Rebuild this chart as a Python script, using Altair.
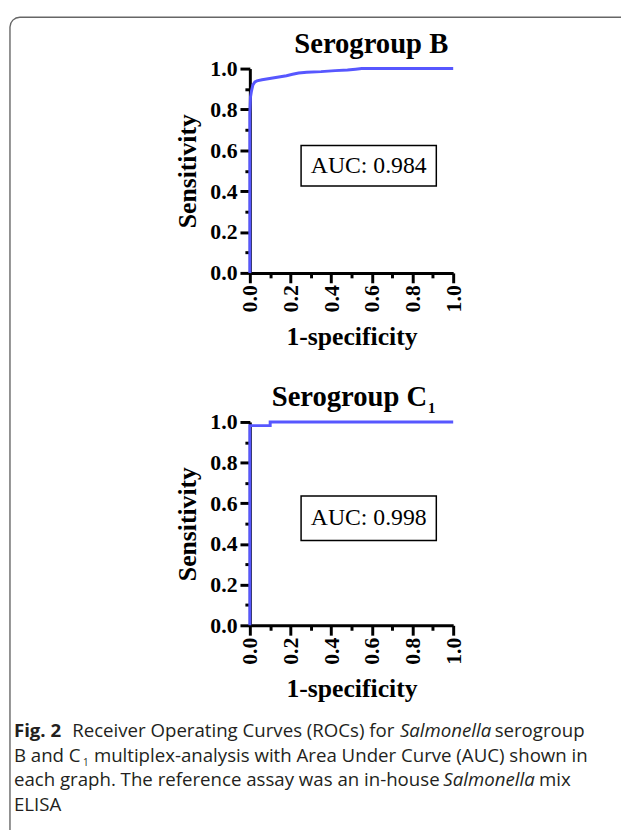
import altair as alt
import pandas as pd

# ---- data ----
fpr_b = [0.0, 0.0, 0.003, 0.008, 0.015, 0.025, 0.035, 0.06, 0.09, 0.12, 0.15, 0.18, 0.21, 0.24, 0.28, 0.35, 0.42, 0.48, 0.52, 0.55, 1.0]
tpr_b = [0.0, 0.78, 0.86, 0.89, 0.92, 0.935, 0.94, 0.945, 0.95, 0.955, 0.96, 0.965, 0.972, 0.978, 0.982, 0.985, 0.99, 0.993, 0.997, 1.0, 1.0]
fpr_c = [0.0, 0.0, 0.1, 0.1, 1.0]
tpr_c = [0.0, 0.982, 0.982, 1.0, 1.0]
auc_values = [0.984, 0.998]
panel_titles = ["Serogroup B", "Serogroup C"]
major_ticks = [0.0, 0.2, 0.4, 0.6, 0.8, 1.0]
minor_ticks = [0.1, 0.3, 0.5, 0.7, 0.9]

W, H = 621, 822
X0, X1 = 245, 451
BLUE = "#5757ff"
SERIF = "Liberation Serif"
CAP_FONT = "Open Sans"
CAP_COLOR = "#231f20"
CAP_SIZE = 18.9


def one(**kw):
    return alt.Data(values=[kw])


def panel(fpr, tpr, y_bottom, y_top, auc, box):
    xs = alt.Scale(domain=[0, 1], range=[X0, X1], nice=False, zero=False)
    ys = alt.Scale(domain=[0, 1], range=[y_bottom, y_top], nice=False, zero=False)
    df = pd.DataFrame({"fpr": fpr, "tpr": tpr, "i": list(range(len(fpr)))})
    line = alt.Chart(df).mark_line(color=BLUE, strokeWidth=3, clip=False).encode(
        x=alt.X("fpr:Q", scale=xs, axis=alt.Axis(
            orient="bottom", offset=y_bottom - H, values=major_ticks, format=".1f",
            labelAngle=-90, tickSize=10, labelPadding=2, title="1-specificity",
            titlePadding=12)),
        y=alt.Y("tpr:Q", scale=ys, axis=alt.Axis(
            orient="left", offset=-X0, values=major_ticks, format=".1f",
            tickSize=10, labelPadding=3, title="Sensitivity", titlePadding=10)),
        order="i:Q",
    )
    bx0, bx1, by0, by1 = box
    rect = alt.Chart(one(x0=bx0, x1=bx1, y0=by0, y1=by1)).mark_rect(
        fill="white", stroke="black", strokeWidth=1.5
    ).encode(
        x=alt.X("x0:Q", scale=xs, axis=alt.Axis(
            orient="bottom", offset=y_bottom - H, values=minor_ticks, labels=False,
            domain=False, tickSize=5, title=None)),
        x2="x1:Q",
        y=alt.Y("y0:Q", scale=ys, axis=alt.Axis(
            orient="left", offset=-X0, values=minor_ticks, labels=False,
            domain=False, tickSize=5, title=None)),
        y2="y1:Q",
    )
    auc_text = alt.Chart(one(x=(bx0 + bx1) / 2, y=(by0 + by1) / 2, t=f"AUC: {auc:.3f}")).mark_text(
        font=SERIF, fontSize=24, color="black", baseline="middle", align="center"
    ).encode(
        x=alt.X("x:Q", scale=xs, axis=None),
        y=alt.Y("y:Q", scale=ys, axis=None),
        text="t:N",
    )
    return [line, rect, auc_text], xs, ys


# Panel B
layersB, xsB, ysB = panel(fpr_b, tpr_b, 263, 56, auc_values[0],
                          (0.252, 0.917, 0.425, 0.623))
titleB = alt.Chart(one(x=0.597, y=1.077, t=panel_titles[0])).mark_text(
    font=SERIF, fontSize=29, fontWeight="bold", color="black",
    baseline="alphabetic", align="center"
).encode(x=alt.X("x:Q", scale=xsB, axis=None), y=alt.Y("y:Q", scale=ysB, axis=None), text="t:N")
panelB = alt.layer(*layersB, titleB).resolve_axis(x="independent", y="independent")

# Panel C1
layersC, xsC, ysC = panel(fpr_c, tpr_c, 620, 414, auc_values[1],
                          (0.252, 0.917, 0.417, 0.636))
titleC = alt.Chart(one(x=0.49, y=1.078, t=panel_titles[1])).mark_text(
    font=SERIF, fontSize=29, fontWeight="bold", color="black",
    baseline="alphabetic", align="center"
).encode(x=alt.X("x:Q", scale=xsC, axis=None), y=alt.Y("y:Q", scale=ysC, axis=None), text="t:N")
subC = alt.Chart(one(x=0.876, y=1.044, t="1")).mark_text(
    font=SERIF, fontSize=15, fontWeight="bold", color="black",
    baseline="alphabetic", align="left"
).encode(x=alt.X("x:Q", scale=xsC, axis=None), y=alt.Y("y:Q", scale=ysC, axis=None), text="t:N")
panelC = alt.layer(*layersC, titleC, subC).resolve_axis(x="independent", y="independent")

# Caption segments
cap_text = ["Fig. 2", "Receiver Operating Curves (ROCs) for", "Salmonella", "serogroup",
            "B and C", "1", "multiplex-analysis with Area Under Curve (AUC) shown in",
            "each graph. The reference assay was an in-house", "Salmonella", "mix",
            "ELISA"]
cap_x = [6, 65, 397, 493, 6, 76, 87, 6, 441, 538, 6]
cap_y = [733, 733, 733, 733, 758, 763, 758, 783, 783, 783, 808]
cap_weight = ["bold", "normal", "normal", "normal", "normal", "normal", "normal",
              "normal", "normal", "normal", "normal"]
cap_style = ["normal", "normal", "italic", "normal", "normal", "normal", "normal",
             "normal", "italic", "normal", "normal"]
cap_size = [CAP_SIZE, CAP_SIZE, CAP_SIZE, CAP_SIZE, CAP_SIZE, 10, CAP_SIZE,
            CAP_SIZE, CAP_SIZE, CAP_SIZE, CAP_SIZE]

caption_layers = []
for t, x, y, w, s, fs in zip(cap_text, cap_x, cap_y, cap_weight, cap_style, cap_size):
    caption_layers.append(
        alt.Chart(one(t=t)).mark_text(
            font=CAP_FONT, fontSize=fs, fontWeight=w, fontStyle=s, color=CAP_COLOR,
            align="left", baseline="alphabetic"
        ).encode(x=alt.value(x), y=alt.value(y), text="t:N")
    )

border = alt.Chart(one(a=1)).mark_rect(
    fill=None, stroke="#666666", strokeWidth=1.4, cornerRadius=10
).encode(x=alt.value(2), x2=alt.value(700), y=alt.value(4), y2=alt.value(900))

chart = alt.layer(border, panelB, panelC, *caption_layers).resolve_scale(
    x="independent", y="independent"
).resolve_axis(
    x="independent", y="independent"
).properties(
    width=W, height=H, padding=0,
    autosize=alt.AutoSizeParams(type="none"),
    background="white",
).configure_axis(
    labelFont=SERIF, labelFontWeight="bold", labelFontSize=22, labelColor="black",
    titleFont=SERIF, titleFontWeight="bold", titleFontSize=26, titleColor="black",
    domainColor="black", domainWidth=3, tickColor="black", tickWidth=3, grid=False,
).configure_view(stroke=None)

chart.save("out.html", embed_options={"renderer": "svg", "actions": False})
